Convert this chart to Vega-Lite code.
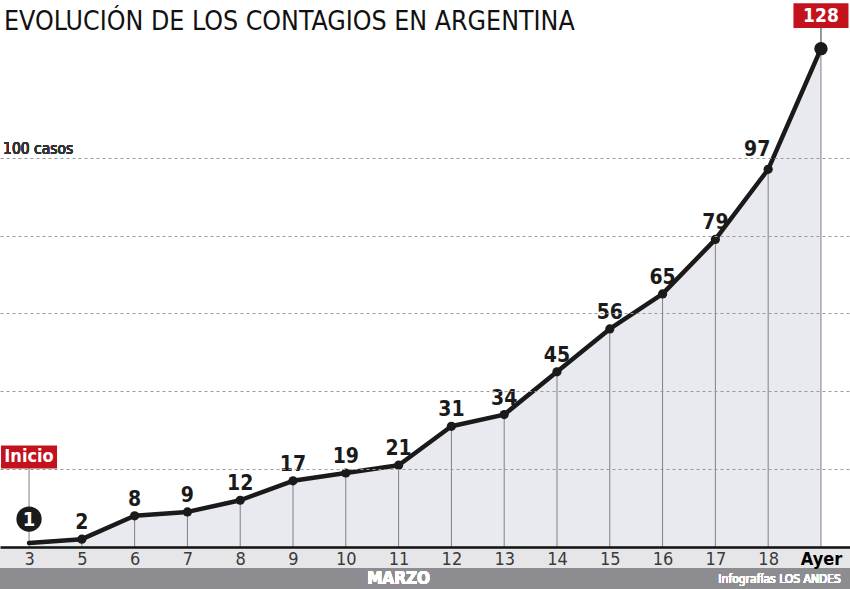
{
  "$schema": "https://vega.github.io/schema/vega-lite/v6.json",
  "width": 850,
  "height": 589,
  "autosize": "none",
  "padding": 0,
  "background": "white",
  "title": {
    "text": "EVOLUCIÓN DE LOS CONTAGIOS EN ARGENTINA",
    "anchor": "start",
    "frame": "group",
    "orient": "top",
    "baseline": "alphabetic",
    "offset": 0,
    "dy": 56,
    "dx": 4,
    "font": "DejaVu Sans Condensed",
    "fontSize": 26.5,
    "fontWeight": "normal",
    "color": "#111111"
  },
  "config": {
    "view": {"stroke": null},
    "font": "DejaVu Sans Condensed"
  },
  "data": {
    "values": [
      {"dia": "3", "casos": 1},
      {"dia": "5", "casos": 2},
      {"dia": "6", "casos": 8},
      {"dia": "7", "casos": 9},
      {"dia": "8", "casos": 12},
      {"dia": "9", "casos": 17},
      {"dia": "10", "casos": 19},
      {"dia": "11", "casos": 21},
      {"dia": "12", "casos": 31},
      {"dia": "13", "casos": 34},
      {"dia": "14", "casos": 45},
      {"dia": "15", "casos": 56},
      {"dia": "16", "casos": 65},
      {"dia": "17", "casos": 79},
      {"dia": "18", "casos": 97},
      {"dia": "Ayer", "casos": 128}
    ]
  },
  "encoding": {
    "x": {
      "field": "dia",
      "type": "ordinal",
      "sort": null,
      "scale": {"type": "point", "padding": 0.55},
      "axis": {
        "orient": "bottom",
        "offset": -42,
        "title": null,
        "labelAngle": 0,
        "ticks": false,
        "domain": true,
        "domainColor": "#111111",
        "domainWidth": 2.5,
        "labelPadding": 3,
        "labelFont": "DejaVu Sans Condensed",
        "labelFontSize": 18,
        "labelColor": {"condition": {"test": "datum.value === 'Ayer'", "value": "#000000"}, "value": "#3a3a3a"},
        "labelFontWeight": {"condition": {"test": "datum.value === 'Ayer'", "value": "bold"}, "value": "normal"},
        "labelBaseline": "top",
        "labelOverlap": false,
        "zindex": 1
      }
    },
    "y": {
      "field": "casos",
      "type": "quantitative",
      "scale": {"domain": [-10.8, 140.5], "nice": false, "zero": false},
      "axis": {
        "values": [20, 40, 60, 80, 100],
        "grid": true,
        "gridDash": [3, 3],
        "gridColor": "#9a9a9a",
        "gridWidth": 1,
        "labels": false,
        "ticks": false,
        "domain": false,
        "title": null,
        "zindex": 1
      }
    }
  },
  "layer": [
    {
      "mark": {"type": "rect", "color": "#e6e6e9", "yOffset": 1, "y2Offset": 21},
      "encoding": {"x": null, "y": {"datum": 0, "type": "quantitative"}, "y2": {"datum": 0}}
    },
    {
      "mark": {"type": "rect", "color": "#8d8d91", "yOffset": 21, "y2Offset": 43},
      "encoding": {"x": null, "y": {"datum": 0, "type": "quantitative"}, "y2": {"datum": 0}}
    },
    {
      "mark": {"type": "area", "color": "#e9eaef", "opacity": 1},
      "encoding": {"y2": {"datum": 0}}
    },
    {
      "mark": {"type": "rule", "color": "#808080", "strokeWidth": 1},
      "encoding": {"y2": {"datum": 0}}
    },
    {
      "transform": [{"filter": "datum.dia === '3'"}],
      "mark": {"type": "rule", "color": "#808080", "strokeWidth": 1, "y2Offset": -76},
      "encoding": {"y2": {"field": "casos"}}
    },
    {
      "transform": [{"filter": "datum.dia === 'Ayer'"}],
      "mark": {"type": "rule", "color": "#555555", "strokeWidth": 1.2, "y2Offset": -21},
      "encoding": {"y2": {"field": "casos"}}
    },
    {
      "mark": {"type": "line", "color": "#1a1a1a", "strokeWidth": 4.5, "strokeJoin": "round", "strokeCap": "round"}
    },
    {
      "transform": [{"filter": "datum.dia !== '3' && datum.dia !== 'Ayer'"}],
      "mark": {"type": "circle", "color": "#1a1a1a", "size": 85, "opacity": 1}
    },
    {
      "transform": [{"filter": "datum.dia === 'Ayer'"}],
      "mark": {"type": "circle", "color": "#1a1a1a", "size": 180, "opacity": 1}
    },
    {
      "transform": [{"filter": "datum.dia === '3'"}],
      "mark": {"type": "circle", "color": "#1a1a1a", "size": 640, "opacity": 1, "yOffset": -24}
    },
    {
      "transform": [{"filter": "datum.dia === '3'"}],
      "mark": {"type": "text", "color": "white", "fontSize": 20, "fontWeight": "bold", "baseline": "middle", "align": "center", "dy": -23},
      "encoding": {"text": {"field": "casos"}}
    },
    {
      "transform": [{"filter": "datum.dia !== '3' && datum.dia !== 'Ayer' && datum.dia !== '18'"}],
      "mark": {"type": "text", "color": "#1a1a1a", "fontSize": 21, "fontWeight": "bold", "baseline": "alphabetic", "align": "center", "dy": -10},
      "encoding": {"text": {"field": "casos"}}
    },
    {
      "transform": [{"filter": "datum.dia === '18'"}],
      "mark": {"type": "text", "color": "#1a1a1a", "fontSize": 21, "fontWeight": "bold", "baseline": "alphabetic", "align": "center", "dy": -13, "dx": -11},
      "encoding": {"text": {"field": "casos"}}
    },
    {
      "transform": [{"filter": "datum.dia === '3'"}],
      "mark": {"type": "point", "shape": "M-1,-0.41L1,-0.41L1,0.41L-1,0.41Z", "size": 3136, "filled": true, "color": "#c3111d", "opacity": 1, "yOffset": -86}
    },
    {
      "transform": [{"filter": "datum.dia === '3'"}],
      "mark": {"type": "text", "text": "Inicio", "color": "white", "fontSize": 18, "fontWeight": "bold", "baseline": "middle", "align": "center", "dy": -86}
    },
    {
      "transform": [{"filter": "datum.dia === 'Ayer'"}],
      "mark": {"type": "point", "shape": "M-1,-0.45L1,-0.45L1,0.45L-1,0.45Z", "size": 3025, "filled": true, "color": "#c3111d", "opacity": 1, "yOffset": -33}
    },
    {
      "transform": [{"filter": "datum.dia === 'Ayer'"}],
      "mark": {"type": "text", "color": "white", "fontSize": 19, "fontWeight": "bold", "baseline": "middle", "align": "center", "dy": -33},
      "encoding": {"text": {"field": "casos"}}
    },
    {
      "mark": {"type": "text", "text": "100 casos", "color": "#333333", "fontSize": 15.5, "align": "left", "baseline": "alphabetic", "dx": -26, "dy": -4},
      "encoding": {"x": {"datum": "3"}, "y": {"datum": 100, "type": "quantitative"}}
    },
    {
      "mark": {"type": "text", "text": "MARZO", "color": "white", "fontSize": 17, "fontWeight": "bold", "align": "center", "baseline": "middle", "dy": 32},
      "encoding": {"x": {"datum": "11"}, "y": {"datum": 0, "type": "quantitative"}}
    },
    {
      "mark": {"type": "text", "text": "Infografías LOS ANDES", "color": "white", "fontSize": 12, "align": "right", "baseline": "middle", "dx": 20, "dy": 32},
      "encoding": {"x": {"datum": "Ayer"}, "y": {"datum": 0, "type": "quantitative"}}
    }
  ]
}
